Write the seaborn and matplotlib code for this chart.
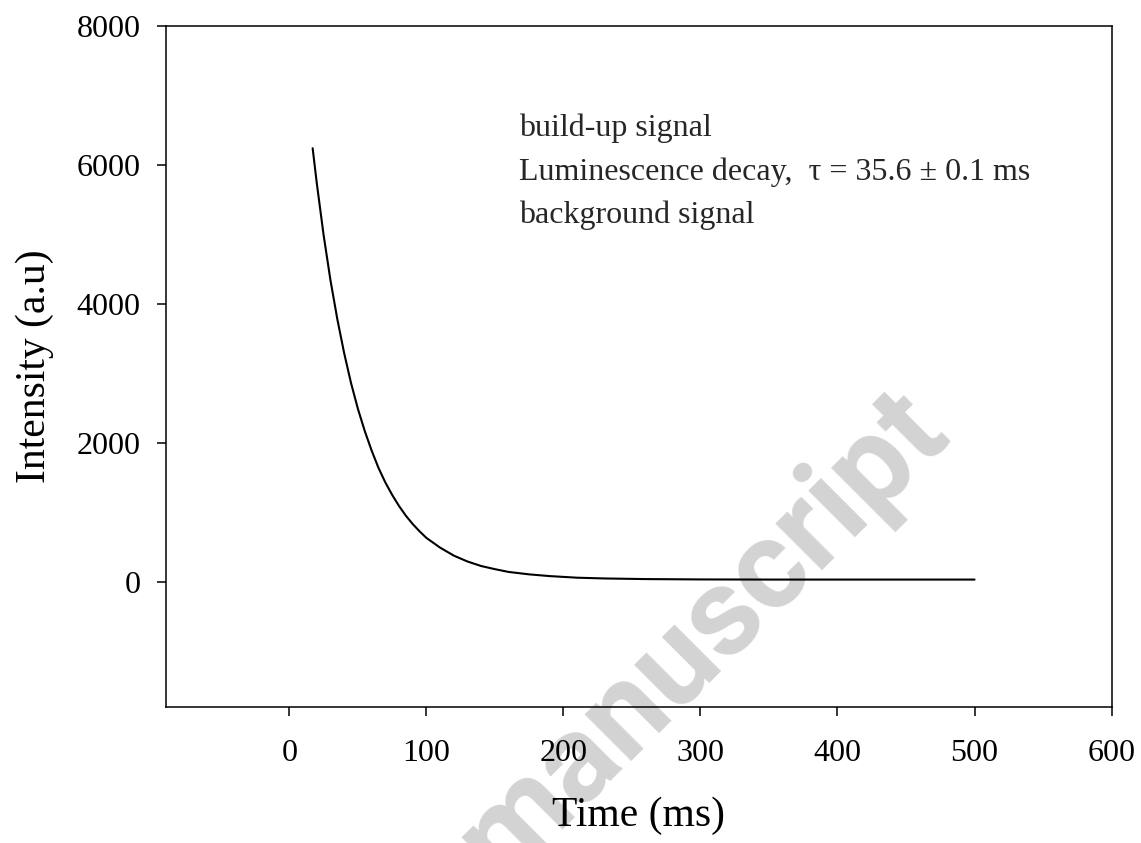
import matplotlib
matplotlib.use("Agg")
import matplotlib.pyplot as plt
from matplotlib.lines import Line2D
import pandas as pd
import seaborn as sns

# Luminescence decay trace (time in ms, intensity in a.u.)
time_ms = [17, 20, 25, 30, 35, 40, 45, 50, 55, 60, 65, 70, 75, 80, 85, 90, 95,
           100, 110, 120, 130, 140, 150, 160, 175, 190, 210, 230, 260, 300,
           350, 400, 450, 500]
intensity = [6240, 5740, 4990, 4340, 3780, 3290, 2860, 2490, 2170, 1890, 1640,
             1430, 1250, 1090, 950, 830, 725, 630, 490, 375, 290, 225, 180,
             140, 105, 80, 57, 46, 37, 32, 30, 30, 30, 30]

series_labels = ["build-up signal",
                 "Luminescence decay,  τ = 35.6 ± 0.1 ms",
                 "background signal"]
x_ticks = [0, 100, 200, 300, 400, 500, 600]
y_ticks = [0, 2000, 4000, 6000, 8000]
x_limits = (-90, 600)
y_limits = (-1800, 8000)

sns.set_theme(style="white")
plt.rcParams["font.family"] = ["Liberation Serif", "DejaVu Serif"]

fig = plt.figure(figsize=(11.41, 8.43), dpi=100)
ax = fig.add_axes([0.1455, 0.1617, 0.8287, 0.8075])

df = pd.DataFrame({"Time": time_ms, "Intensity": intensity})
sns.lineplot(data=df, x="Time", y="Intensity", ax=ax, color="black",
             linewidth=1.5, label=series_labels[1])

ax.set_xlim(*x_limits)
ax.set_ylim(*y_limits)
ax.set_xticks(x_ticks)
ax.set_yticks(y_ticks)
ax.set_xticklabels([str(v) for v in x_ticks])
ax.set_yticklabels([str(v) for v in y_ticks])

for side in ["left", "right", "top", "bottom"]:
    ax.spines[side].set_visible(True)
    ax.spines[side].set_color("black")
    ax.spines[side].set_linewidth(1.1)

ax.tick_params(axis="x", bottom=True, direction="out", length=6.5, width=1.1,
               pad=17, labelsize=23, colors="black")
ax.tick_params(axis="y", left=True, direction="out", length=6.5, width=1.1,
               pad=12, labelsize=23, colors="black")

ax.set_xlabel("Time (ms)", fontsize=30, labelpad=20, color="black")
ax.set_ylabel("Intensity (a.u)", fontsize=30, labelpad=16, color="black")

# Legend entries listed as text only
decay_line = ax.get_lines()[0]
buildup_handle = Line2D([], [], color="black")
background_handle = Line2D([], [], color="black")
ax.legend(handles=[buildup_handle, decay_line, background_handle],
          labels=series_labels, loc="upper left",
          bbox_to_anchor=(0.373, 0.8707), borderaxespad=0, borderpad=0,
          handlelength=0, handletextpad=0, labelspacing=0.43,
          frameon=False, fontsize=23)

# Grey diagonal stamp behind the data
ax.text(0.6161, 0.2467, "manuscript", transform=fig.transFigure,
        rotation=45, rotation_mode="anchor", ha="center", va="center",
        fontsize=90, fontweight="bold", color="#d3d3d3",
        family=["Roboto", "Liberation Sans"], zorder=0.3, clip_on=False)

fig.savefig("out.png", dpi=100)
